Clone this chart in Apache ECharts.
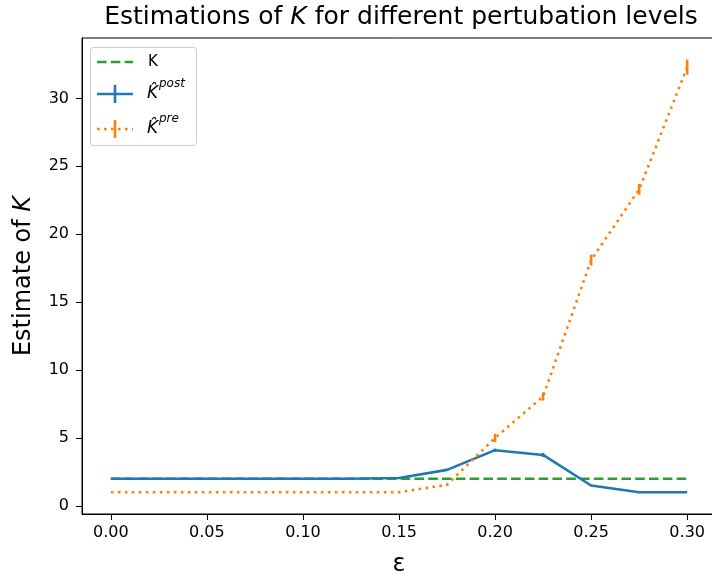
<!DOCTYPE html>
<html>
<head>
<meta charset="utf-8">
<script src="https://cdn.jsdelivr.net/npm/echarts@6/dist/echarts.min.js"></script>
<style>
  html, body { margin: 0; padding: 0; background: #fff; }
  #chart { width: 712px; height: 579px; }
</style>
</head>
<body>
<div id="chart"></div>
<script>
// Perturbation levels (epsilon)
const eps = [0, 0.025, 0.05, 0.075, 0.1, 0.125, 0.15, 0.175, 0.2, 0.225, 0.25, 0.275, 0.3];
// True number of components
const trueK = [2, 2, 2, 2, 2, 2, 2, 2, 2, 2, 2, 2, 2];
// Estimate after perturbation handling, with error half-widths
const kPost = [2, 2, 2, 2, 2, 2, 2.05, 2.65, 4.1, 3.75, 1.5, 1.0, 1.0];
const kPostErr = [0, 0, 0, 0, 0, 0, 0.03, 0.08, 0.12, 0.15, 0.05, 0, 0];
// Estimate before perturbation handling, with error half-widths
const kPre = [1, 1, 1, 1, 1, 1, 1, 1.55, 5.0, 8.05, 18.1, 23.3, 32.3];
const kPreErr = [0, 0, 0, 0, 0, 0, 0, 0.05, 0.3, 0.3, 0.4, 0.4, 0.55];
// Tick labels
const xTicks = [0, 0.05, 0.1, 0.15, 0.2, 0.25, 0.3];
const yTicks = [0, 5, 10, 15, 20, 25, 30];

const BLUE = '#1f77b4', ORANGE = '#ff7f0e', GREEN = '#2ca02c';
const FONT = 'DejaVu Sans';
const LW = 2.6;
const DASHED = [9.6, 4.2];
const DOTTED = [2.6, 4.4];

const pairs = (xs, ys) => xs.map((x, i) => [x, ys[i]]);
const bars = (xs, ys, es) => xs.map((x, i) => [x, ys[i] - es[i], ys[i] + es[i]]);

function errorBars(color) {
  return function (params, api) {
    const x = api.value(0);
    const p1 = api.coord([x, api.value(1)]);
    const p2 = api.coord([x, api.value(2)]);
    return {
      type: 'line',
      shape: { x1: p1[0], y1: p1[1], x2: p2[0], y2: p2[1] },
      style: { stroke: color, lineWidth: LW }
    };
  };
}

const chart = echarts.init(document.getElementById('chart'), null, { renderer: 'canvas' });

// Legend drawn as graphic: box, line samples and labels
const LX = 97, LX2 = 133, LMID = 115;
const legend = {
  type: 'group',
  children: [
    { type: 'rect', shape: { x: 90.5, y: 47.5, width: 106, height: 98, r: 3 },
      style: { fill: 'rgba(255,255,255,0.8)', stroke: '#cccccc', lineWidth: 1 } },
    { type: 'line', shape: { x1: LX, y1: 62, x2: LX2, y2: 62 },
      style: { stroke: GREEN, lineWidth: LW, lineDash: DASHED } },
    { type: 'text', x: 148, y: 62,
      style: { text: 'K', font: '15px "' + FONT + '"', fill: '#000', verticalAlign: 'middle' } },
    { type: 'line', shape: { x1: LX, y1: 94, x2: LX2, y2: 94 },
      style: { stroke: BLUE, lineWidth: LW } },
    { type: 'line', shape: { x1: LMID, y1: 85, x2: LMID, y2: 103 },
      style: { stroke: BLUE, lineWidth: LW } },
    { type: 'text', x: 147, y: 102,
      style: { text: 'K\u0302', font: 'italic 17px "' + FONT + '"', fill: '#000', verticalAlign: 'bottom' } },
    { type: 'text', x: 159, y: 90,
      style: { text: 'post', font: 'italic 12px "' + FONT + '"', fill: '#000', verticalAlign: 'bottom' } },
    { type: 'line', shape: { x1: LX, y1: 129, x2: LX2, y2: 129 },
      style: { stroke: ORANGE, lineWidth: LW, lineDash: DOTTED } },
    { type: 'line', shape: { x1: LMID, y1: 120, x2: LMID, y2: 138 },
      style: { stroke: ORANGE, lineWidth: LW } },
    { type: 'text', x: 147, y: 137,
      style: { text: 'K\u0302', font: 'italic 17px "' + FONT + '"', fill: '#000', verticalAlign: 'bottom' } },
    { type: 'text', x: 159, y: 125,
      style: { text: 'pre', font: 'italic 12px "' + FONT + '"', fill: '#000', verticalAlign: 'bottom' } }
  ]
};

const option = {
  animation: false,
  backgroundColor: '#fff',
  textStyle: { fontFamily: FONT },
  grid: {
    left: 82, top: 38, width: 634, bottom: 65,
    outerBoundsMode: 'none', containLabel: false,
    show: true, borderColor: '#000', borderWidth: 1, backgroundColor: 'transparent'
  },
  graphic: [
    {
      type: 'text', x: 401, y: 5, z: 10,
      style: {
        text: '{a|Estimations of }{i|K}{a| for different pertubation levels}',
        align: 'center',
        rich: {
          a: { fontFamily: FONT, fontSize: 25, fill: '#000' },
          i: { fontFamily: FONT, fontSize: 25, fontStyle: 'italic', fill: '#000' }
        }
      }
    },
    legend
  ],
  xAxis: {
    type: 'value', min: -0.015, max: 0.315,
    name: 'ε', nameLocation: 'middle', nameGap: 39,
    nameTextStyle: { fontFamily: FONT, fontSize: 24, color: '#000' },
    axisLine: { show: true, onZero: false, lineStyle: { color: '#000', width: 1 } },
    splitLine: { show: false },
    axisTick: { show: true, customValues: xTicks, length: 6, lineStyle: { color: '#000', width: 1 } },
    axisLabel: { customValues: xTicks, margin: 11, fontSize: 16, color: '#000', fontFamily: FONT,
      formatter: v => v.toFixed(2) }
  },
  yAxis: {
    type: 'value', min: -0.6, max: 34.45,
    name: '{a|Estimate of }{i|K}', nameLocation: 'middle', nameGap: 46,
    nameTextStyle: {
      rich: {
        a: { fontFamily: FONT, fontSize: 24, color: '#000' },
        i: { fontFamily: FONT, fontSize: 24, fontStyle: 'italic', color: '#000' }
      }
    },
    axisLine: { show: true, onZero: false, lineStyle: { color: '#000', width: 1 } },
    splitLine: { show: false },
    axisTick: { show: true, customValues: yTicks, length: 6, lineStyle: { color: '#000', width: 1 } },
    axisLabel: { customValues: yTicks, margin: 13, fontSize: 16, color: '#000', fontFamily: FONT }
  },
  series: [
    { name: 'K', type: 'line', data: pairs(eps, trueK), showSymbol: false,
      lineStyle: { color: GREEN, width: LW, type: DASHED } },
    { name: 'post', type: 'line', data: pairs(eps, kPost), showSymbol: false,
      lineStyle: { color: BLUE, width: LW } },
    { name: 'postErr', type: 'custom', data: bars(eps, kPost, kPostErr), renderItem: errorBars(BLUE) },
    { name: 'pre', type: 'line', data: pairs(eps, kPre), showSymbol: false,
      lineStyle: { color: ORANGE, width: LW, type: DOTTED } },
    { name: 'preErr', type: 'custom', data: bars(eps, kPre, kPreErr), renderItem: errorBars(ORANGE) }
  ]
};

chart.setOption(option);
</script>
</body>
</html>
